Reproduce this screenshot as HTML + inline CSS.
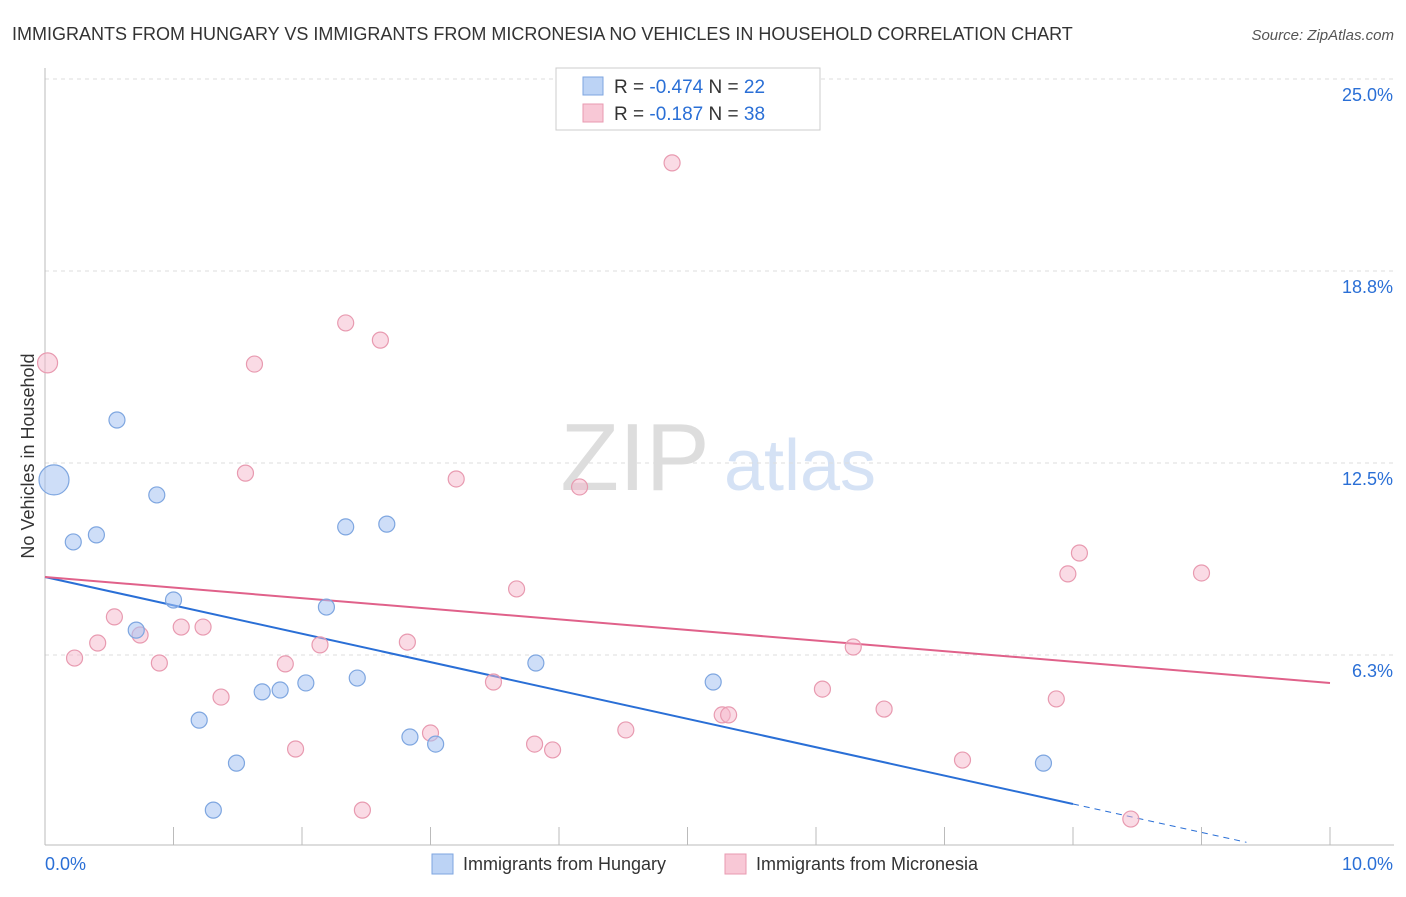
<!DOCTYPE html>
<html><head><meta charset="utf-8"><style>
body{margin:0;background:#fff;font-family:"Liberation Sans",sans-serif;}
svg text{font-family:"Liberation Sans",sans-serif;}
</style></head><body>
<svg id="chart" width="1406" height="892" viewBox="0 0 1406 892">
<text x="12" y="40" font-size="18" fill="#333">IMMIGRANTS FROM HUNGARY VS IMMIGRANTS FROM MICRONESIA NO VEHICLES IN HOUSEHOLD CORRELATION CHART</text>
<text x="1394" y="40" font-size="15" fill="#555" font-style="italic" text-anchor="end">Source: ZipAtlas.com</text>
<text x="34" y="456" font-size="18" fill="#333" text-anchor="middle" transform="rotate(-90 34 456)">No Vehicles in Household</text>
<g><text x="635" y="490" font-size="96" fill="#ddd" font-family="Liberation Serif" text-anchor="middle">ZIP</text><text x="800" y="490" font-size="72" fill="#d5e2f5" text-anchor="middle">atlas</text></g>
<g id="grid"></g><g id="axes"></g><g id="lines"></g><g id="points"></g>
<g>
<rect x="556" y="68" width="264" height="62" fill="#fff" stroke="#ccc"/>
<rect x="583" y="77" width="20" height="18" fill="#bcd3f5" stroke="#7ea6e0"/>
<text x="614" y="93" font-size="19" fill="#333">R = <tspan fill="#2a6fd6">-0.474</tspan>   N = <tspan fill="#2a6fd6">22</tspan></text>
<rect x="583" y="104" width="20" height="18" fill="#f8c8d6" stroke="#e89ab0"/>
<text x="614" y="120" font-size="19" fill="#333">R =  <tspan fill="#2a6fd6">-0.187</tspan>   N = <tspan fill="#2a6fd6">38</tspan></text>
</g>
<g>
<rect x="432" y="854" width="21" height="20" fill="#bcd3f5" stroke="#7ea6e0"/>
<text x="463" y="870" font-size="18" fill="#333">Immigrants from Hungary</text>
<rect x="725" y="854" width="21" height="20" fill="#f8c8d6" stroke="#e89ab0"/>
<text x="756" y="870" font-size="18" fill="#333">Immigrants from Micronesia</text>
</g>
</svg>
<script>
const hungaryX=[0.07,0.56,0.22,0.40,0.87,1.00,0.71,1.20,1.49,1.31,1.69,1.83,2.03,2.19,2.34,2.66,2.43,2.84,3.04,3.82,5.20,7.77];
const hungaryY=[11.95,13.9,9.93,10.16,11.46,8.04,7.06,4.13,2.73,1.20,5.05,5.11,5.34,7.81,10.42,10.51,5.50,3.58,3.35,5.99,5.37,2.73];
const micronesiaX=[0.02,0.23,0.41,0.54,0.74,0.89,1.06,1.23,1.37,1.56,1.63,1.87,1.95,2.14,2.34,2.47,2.61,2.82,3.00,3.20,3.49,3.67,3.81,3.95,4.16,4.52,4.88,5.27,5.32,6.05,6.29,6.53,7.14,7.87,7.96,8.05,8.45,9.00];
const micronesiaY=[15.76,6.15,6.64,7.49,6.90,5.99,7.16,7.16,4.88,12.17,15.72,5.96,3.19,6.58,17.06,1.20,16.50,6.67,3.71,11.98,5.37,8.40,3.35,3.16,11.72,3.81,22.27,4.30,4.30,5.14,6.51,4.49,2.83,4.82,8.89,9.57,0.91,8.92];
const yTicks=[6.25,12.5,18.75,25];
const yTickLabels=["6.3%","12.5%","18.8%","25.0%"];
const xTicks=[0,1,2,3,4,5,6,7,8,9,10];
const hungaryTrend=[8.79,1.40];
const micronesiaTrend=[8.79,5.34];
const X=v=>45+v*128.5, Y=v=>847-v*30.72;
const NS="http://www.w3.org/2000/svg";
function mk(p,t,a){const e=document.createElementNS(NS,t);for(const k in a)e.setAttribute(k,a[k]);document.getElementById(p).appendChild(e);return e;}
yTicks.forEach((t,i)=>{
 const g=mk('grid','line',{x1:45,x2:1394,y1:Y(t),y2:Y(t),stroke:'#ddd','stroke-dasharray':'4,4'});
 
 
 const l=mk('grid','text',{x:1393,y:Y(t)+22,'font-size':18,fill:'#2a6fd6','text-anchor':'end'});
 l.textContent=yTickLabels[i];
 
 
});
const ax=mk('axes','line',{x1:45,x2:1394,y1:845,y2:845,stroke:'#bbb'});


const ay=mk('axes','line',{x1:45,x2:45,y1:68,y2:845,stroke:'#bbb'});


xTicks.forEach(t=>{const e=mk('axes','line',{x1:X(t),x2:X(t),y1:827,y2:845,stroke:'#bbb'});
 
 });
[[0,"0.0%","start",45],[10,"10.0%","end",1393]].forEach(([v,s,a,x])=>{const e=mk('axes','text',{x:x,y:870,'font-size':18,fill:'#2a6fd6','text-anchor':a});e.textContent=s;
 
 });
function pts(xs,ys,fill,stroke,name,bigR){xs.forEach((x,i)=>{const c=mk('points','circle',{cx:X(x),cy:Y(ys[i]),r:i===0?bigR:8,fill:fill,stroke:stroke,'stroke-width':1.2});
 
 });}
pts(micronesiaX,micronesiaY,'rgba(246,184,204,0.5)','#e89ab0','point-micronesia',10);
pts(hungaryX,hungaryY,'rgba(165,195,242,0.55)','#7ea6e0','point-hungary',15);
const slope=(hungaryTrend[1]-hungaryTrend[0])/8;
const hl=mk('lines','line',{x1:X(0),y1:Y(hungaryTrend[0]),x2:X(8),y2:Y(hungaryTrend[1]),stroke:'#2a6fd6','stroke-width':2});


const hd=mk('lines','line',{x1:X(8),y1:Y(hungaryTrend[1]),x2:X(9.35),y2:Y(hungaryTrend[0]+slope*9.35),stroke:'#2a6fd6','stroke-width':1,'stroke-dasharray':'6,5'});


const ml=mk('lines','line',{x1:X(0),y1:Y(micronesiaTrend[0]),x2:X(10),y2:Y(micronesiaTrend[1]),stroke:'#e0618a','stroke-width':2});


</script>
</body></html>
